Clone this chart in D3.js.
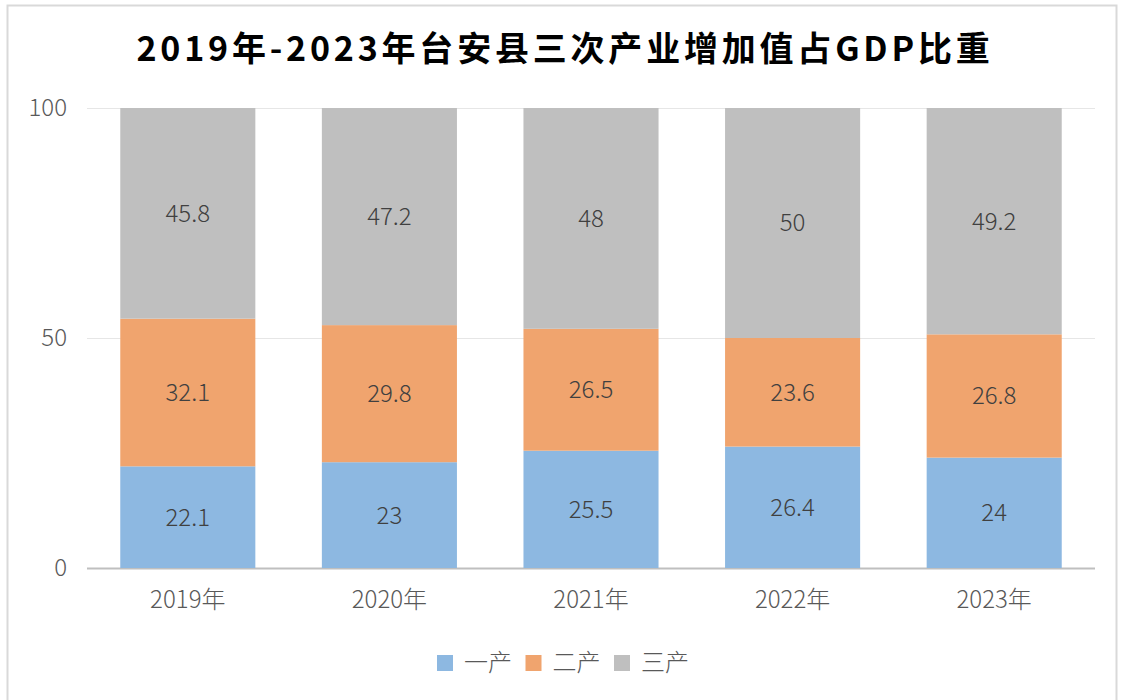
<!DOCTYPE html>
<html>
  <head>
    <meta charset="utf-8">
    <title>台安县三次产业增加值占GDP比重</title>
    <script src="https://cdn.jsdelivr.net/npm/d3@7"></script>
    <style>
      body { margin: 0; background: #fff; }
      svg { display: block; font-family: "Noto Sans CJK SC", "Noto Sans", sans-serif; }
      .lbl { font-size: 24px; font-weight: 300; font-family: "Noto Sans CJK SC", sans-serif; }
    </style>
  </head>

  <body>
    <svg id="chart" width="1121" height="700"></svg>

    <script>
      // data
      years = ["2019年", "2020年", "2021年", "2022年", "2023年"];
      series = ["一产", "二产", "三产"];
      primary = [22.1, 23, 25.5, 26.4, 24];
      secondary = [32.1, 29.8, 26.5, 23.6, 26.8];
      tertiary = [45.8, 47.2, 48, 50, 49.2];
      yTicks = [0, 50, 100];
      colours = ["#8db8e1", "#f0a46e", "#bfbfbf"];

      rows = years.map((y, i) => ({
        year: y,
        "一产": primary[i],
        "二产": secondary[i],
        "三产": tertiary[i]
      }));

      chart = d3.select("#chart");
      margin = { top: 108, right: 26, bottom: 132, left: 87 };
      width = 1121;
      height = 700;

      // frame
      chart.append("rect")
        .attr("x", 7.5).attr("y", 5.5)
        .attr("width", 1109).attr("height", 700)
        .style("fill", "none")
        .style("stroke", "#d9d9d9")
        .style("stroke-width", 2);

      // title
      chart.append("text")
        .attr("x", 565).attr("y", 61)
        .attr("text-anchor", "middle")
        .style("font-size", "34px")
        .style("font-weight", "bold")
        .style("letter-spacing", "3.8px")
        .style("fill", "#000")
        .text("2019年-2023年台安县三次产业增加值占GDP比重");

      x = d3.scaleBand()
        .domain(years)
        .range([margin.left, width - margin.right])
        .paddingInner(0.33)
        .paddingOuter(0.165);

      y = d3.scaleLinear()
        .domain([0, 100])
        .range([height - margin.bottom, margin.top]);

      // gridlines
      chart.append("g")
        .selectAll("line")
        .data(yTicks)
        .join("line")
          .attr("x1", margin.left)
          .attr("x2", width - margin.right)
          .attr("y1", d => y(d) + 0.5)
          .attr("y2", d => y(d) + 0.5)
          .style("stroke", d => d == 0 ? "#bfbfbf" : "#e6e6e6")
          .style("stroke-width", d => d == 0 ? 2 : 1);

      yAxis = d3.axisLeft(y)
        .tickValues(yTicks)
        .tickSize(0)
        .tickPadding(20);
      chart.append("g")
        .attr("transform", "translate(" + margin.left + ",0)")
        .call(yAxis)
        .call(g => g.select(".domain").remove())
        .selectAll("text")
          .attr("class", "lbl")
          .style("fill", "#595959");

      stacked = d3.stack().keys(series)(rows);

      // bars
      layers = chart.append("g")
        .selectAll("g")
        .data(stacked)
        .join("g")
          .style("fill", (d, i) => colours[i]);

      layers.selectAll("rect")
        .data(d => d)
        .join("rect")
          .attr("x", d => x(d.data.year))
          .attr("y", d => y(d[1]))
          .attr("width", x.bandwidth())
          .attr("height", d => y(d[0]) - y(d[1]));

      layers.selectAll("text")
        .data(d => d)
        .join("text")
          .attr("class", "lbl")
          .attr("x", d => x(d.data.year) + x.bandwidth() / 2)
          .attr("y", d => (y(d[0]) + y(d[1])) / 2)
          .attr("dy", "0.35em")
          .attr("text-anchor", "middle")
          .style("fill", "#404040")
          .text(d => d3.format("~g")(+(d[1] - d[0]).toFixed(1)));

      xAxis = d3.axisBottom(x)
        .tickSize(0)
        .tickPadding(23);
      chart.append("g")
        .attr("transform", "translate(0," + y(0) + ")")
        .call(xAxis)
        .call(g => g.select(".domain").remove())
        .selectAll("text")
          .attr("class", "lbl")
          .style("fill", "#595959");

      // legend
      legend = chart.append("g")
        .selectAll("g")
        .data(series)
        .join("g")
          .attr("transform", (d, i) => "translate(" + (437 + i * 88.5) + ",655)");
      legend.append("rect")
        .attr("width", 16).attr("height", 16)
        .style("fill", (d, i) => colours[i]);
      legend.append("text")
        .attr("class", "lbl")
        .attr("x", 27).attr("y", 8)
        .attr("dy", "0.35em")
        .style("fill", "#595959")
        .text(d => d);
    </script>
  </body>
</html>
